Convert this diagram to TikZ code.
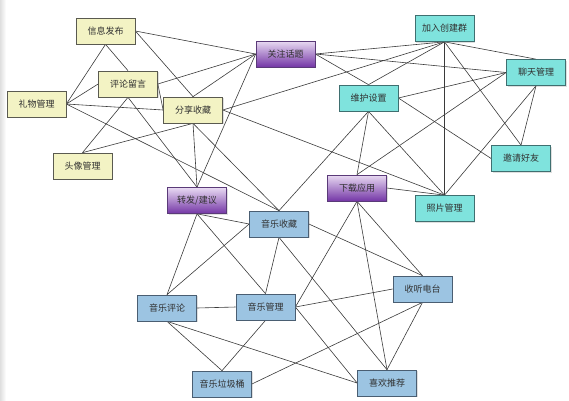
\documentclass[tikz,border=0pt]{standalone}
\usepackage{fontspec}
\setmainfont{Noto Sans CJK SC}
\usetikzlibrary{backgrounds,shadows}
\definecolor{ylw}{HTML}{F3F3C4}
\definecolor{ylwb}{HTML}{5A5A50}
\definecolor{cyn}{HTML}{7FE3DD}
\definecolor{cynb}{HTML}{3F6F70}
\definecolor{blu}{HTML}{9CC4E2}
\definecolor{blub}{HTML}{4A5E72}
\definecolor{purtop}{HTML}{E8DAF2}
\definecolor{purbot}{HTML}{7436A6}
\definecolor{purb}{HTML}{5A3A78}
\definecolor{edgecol}{HTML}{3A3A3A}
\definecolor{txtcol}{HTML}{303030}
\tikzset{
  box/.style={line width=0.7pt, minimum width=59pt, minimum height=26pt,
    inner sep=0pt, font=\fontsize{9}{10}\selectfont, text=txtcol,
    drop shadow={shadow xshift=1pt, shadow yshift=-1pt, opacity=0.25}},
  ybox/.style={box, draw=ylwb, fill=ylw},
  cbox/.style={box, draw=cynb, fill=cyn},
  bbox/.style={box, draw=blub, fill=blu},
  pbox/.style={box, draw=purb, top color=purtop, bottom color=purbot},
  edge/.style={draw=edgecol, line width=0.6pt}
}
\begin{document}
\begin{tikzpicture}[x=1pt,y=-1pt]
\useasboundingbox (0,0) rectangle (569,400);
\fill[left color=gray!25, right color=white] (0,0) rectangle (6,400);
% yellow
\node[ybox] (xx) at (105.5,31) {信息发布};
\node[ybox] (pl) at (128,84) {评论留言};
\node[ybox] (lw) at (36.5,104) {礼物管理};
\node[ybox] (fx) at (193,110) {分享收藏};
\node[ybox] (tx) at (82.5,166) {头像管理};
% purple
\node[pbox] (gz) at (285.5,54) {关注话题};
\node[pbox] (xz) at (357,188) {下载应用};
\node[pbox] (zf) at (197,200.5) {转发/建议};
% cyan
\node[cbox] (jr) at (444.5,28.5) {加入创建群};
\node[cbox] (wh) at (368.5,98) {维护设置};
\node[cbox] (lt) at (536,72.5) {聊天管理};
\node[cbox] (yq) at (521,158.5) {邀请好友};
\node[cbox] (zp) at (444.5,208.5) {照片管理};
% blue
\node[bbox] (sc) at (279,224) {音乐收藏};
\node[bbox] (mp) at (167,308) {音乐评论};
\node[bbox] (mg) at (265.5,307) {音乐管理};
\node[bbox] (dt) at (422.5,289) {收听电台};
\node[bbox] (lj) at (222,384) {音乐垃圾桶};
\node[bbox] (tj) at (387,383) {喜欢推荐};
\begin{pgfonlayer}{background}
\draw[edge] (xx.south) -- (lw.east);
\draw[edge] (xx.south) -- (pl.north);
\draw[edge] (xx.east) -- (gz.west);
\draw[edge] (xx.east) -- (fx.north);
\draw[edge] (pl.west) -- (lw.east);
\draw[edge] (pl.east) -- (gz.west);
\draw[edge] (pl.east) -- (fx.west);
\draw[edge] (pl.south) -- (tx.north);
\draw[edge] (pl.south) -- (zf.north);
\draw[edge] (lw.east) -- (fx.west);
\draw[edge] (lw.east) -- (sc.north);
\draw[edge] (fx.north) -- (gz.west);
\draw[edge] (fx.south) -- (tx.north);
\draw[edge] (fx.south) -- (zf.north);
\draw[edge] (fx.south) -- (sc.north);
\draw[edge] (fx.east) -- (jr.south);
\draw[edge] (fx.east) -- (zp.north);
\draw[edge] (zf.north) -- (gz.west);
\draw[edge] (gz.east) -- (jr.south);
\draw[edge] (gz.east) -- (lt.west);
\draw[edge] (gz.east) -- (wh.north);
\draw[edge] (wh.north) -- (jr.south);
\draw[edge] (wh.east) -- (lt.west);
\draw[edge] (wh.east) -- (yq.west);
\draw[edge] (wh.south) -- (xz.north);
\draw[edge] (wh.south) -- (sc.north);
\draw[edge] (wh.south) -- (zp.north);
\draw[edge] (jr.south) -- (lt.north);
\draw[edge] (jr.south) -- (zp.north);
\draw[edge] (jr.south) -- (yq.north);
\draw[edge] (lt.south) -- (yq.north);
\draw[edge] (lt.south) -- (zp.north);
\draw[edge] (lt.west) -- (xz.north);
\draw[edge] (xz.east) -- (zp.north);
\draw[edge] (xz.south) -- (mg.east);
\draw[edge] (xz.south) -- (tj.north);
\draw[edge] (xz.south) -- (dt.north);
\draw[edge] (zf.south) -- (sc.west);
\draw[edge] (zf.south) -- (mp.north);
\draw[edge] (zf.south) -- (mg.north);
\draw[edge] (sc.west) -- (mp.north);
\draw[edge] (sc.south) -- (mg.north);
\draw[edge] (sc.south) -- (tj.north);
\draw[edge] (sc.east) -- (dt.north);
\draw[edge] (mp.east) -- (mg.west);
\draw[edge] (mp.south) -- (lj.north);
\draw[edge] (mp.south) -- (tj.west);
\draw[edge] (mg.south) -- (lj.north);
\draw[edge] (mg.east) -- (dt.west);
\draw[edge] (mg.east) -- (tj.west);
\draw[edge] (dt.south) -- (tj.north);
\draw[edge] (dt.south) -- (lj.east);
\end{pgfonlayer}
\end{tikzpicture}
\end{document}
